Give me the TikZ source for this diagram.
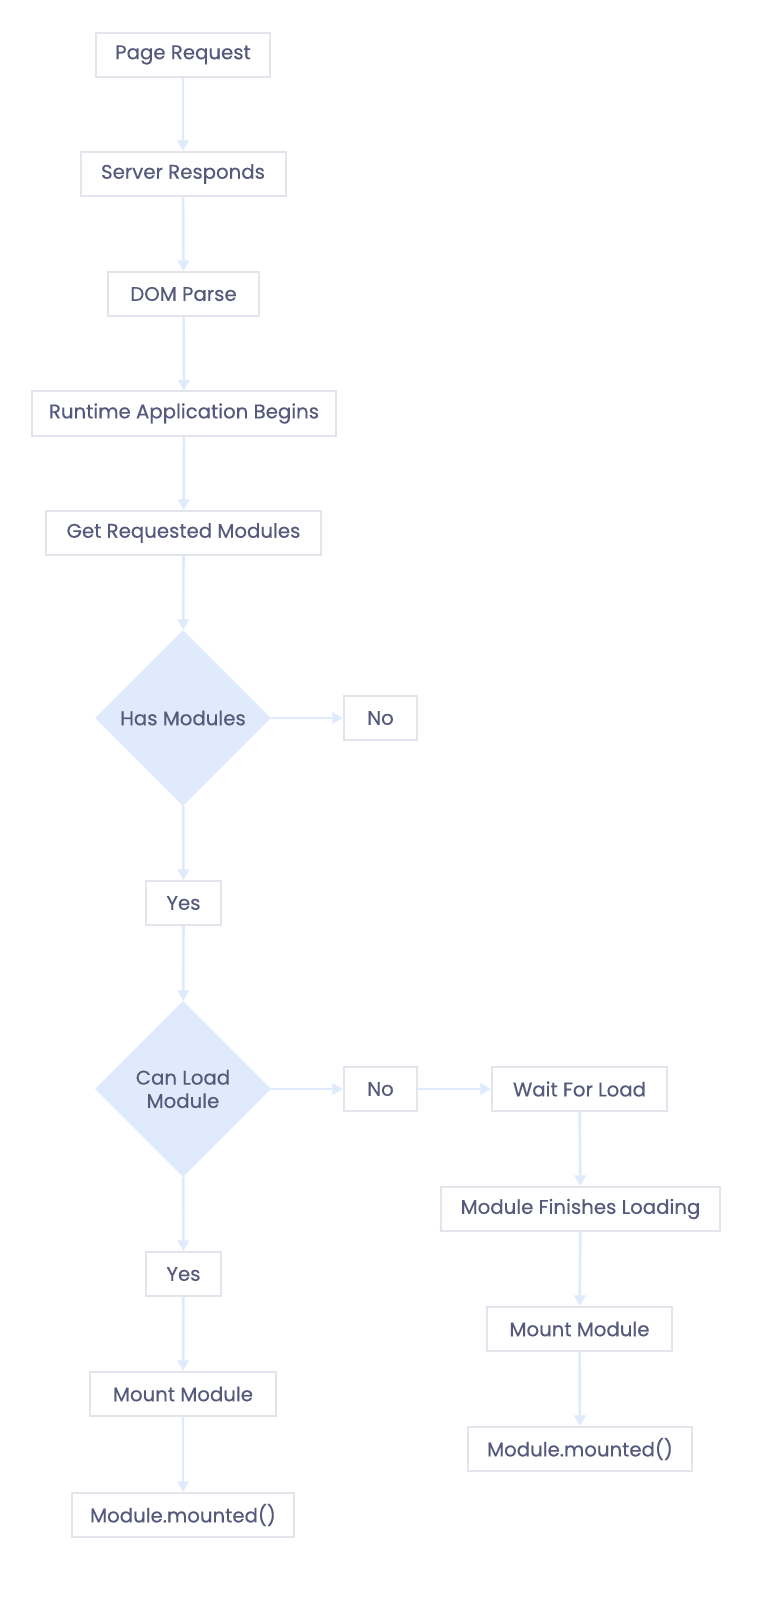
\documentclass[tikz,border=0pt]{standalone}
\usepackage{fontspec}
\setmainfont{Poppins}[FakeBold=0.35]
\usetikzlibrary{shapes.geometric,arrows.meta}
\definecolor{boxline}{HTML}{E3E4EC}
\definecolor{txt}{HTML}{55597B}
\definecolor{flow}{HTML}{DFEAFC}
\begin{document}
\begin{tikzpicture}[x=0.75pt,y=-0.75pt,
  box/.style={draw=boxline,line width=1.5pt,fill=white,minimum height=33pt,inner sep=0pt,text=txt,font=\fontsize{14.8}{17.5}\selectfont},
  dec/.style={diamond,fill=flow,draw=none,minimum width=132pt,minimum height=132pt,inner sep=0pt,text=txt,align=center,font=\fontsize{14.8}{17.5}\selectfont},
  conn/.style={draw=flow,line width=2pt,-{Triangle[length=8pt,width=8.5pt]}}]
\useasboundingbox (0,0) rectangle (775,1615);
\node[box,minimum width=130.5pt] (pr) at (183,55) {Page Request};
\node[box,minimum width=153.75pt] (sr) at (183,174) {Server Responds};
\node[box,minimum width=113.25pt] (dp) at (183.5,294) {DOM Parse};
\node[box,minimum width=228pt] (ra) at (184,413.5) {Runtime Application Begins};
\node[box,minimum width=206.25pt] (gr) at (183.5,533) {Get Requested Modules};
\node[dec] (hm) at (183,718) {Has Modules};
\node[box,minimum width=54.75pt] (no1) at (380.5,718) {No};
\node[box,minimum width=56.25pt] (y1) at (183.5,903) {Yes};
\node[dec] (cl) at (183,1089) {Can Load\\Module};
\node[box,minimum width=54.75pt] (no2) at (380.5,1089) {No};
\node[box,minimum width=131.25pt] (wl) at (579.5,1089) {Wait For Load};
\node[box,minimum width=209.25pt] (mf) at (580.5,1209) {Module Finishes Loading};
\node[box,minimum width=138.75pt] (mmr) at (579.5,1329) {Mount Module};
\node[box,minimum width=168pt] (mdr) at (580,1449) {Module.mounted()};
\node[box,minimum width=56.25pt] (y2) at (183.5,1274) {Yes};
\node[box,minimum width=139.5pt] (mml) at (183,1394) {Mount Module};
\node[box,minimum width=166.5pt] (mdl) at (183,1515) {Module.mounted()};
\draw[conn] (pr) -- (sr);
\draw[conn] (sr) -- (dp);
\draw[conn] (dp) -- (ra);
\draw[conn] (ra) -- (gr);
\draw[conn] (gr) -- (hm);
\draw[conn] (hm) -- (no1);
\draw[conn] (hm) -- (y1);
\draw[conn] (y1) -- (cl);
\draw[conn] (cl) -- (no2);
\draw[conn] (no2) -- (wl);
\draw[conn] (wl) -- (mf);
\draw[conn] (mf) -- (mmr);
\draw[conn] (mmr) -- (mdr);
\draw[conn] (cl) -- (y2);
\draw[conn] (y2) -- (mml);
\draw[conn] (mml) -- (mdl);
\end{tikzpicture}
\end{document}
